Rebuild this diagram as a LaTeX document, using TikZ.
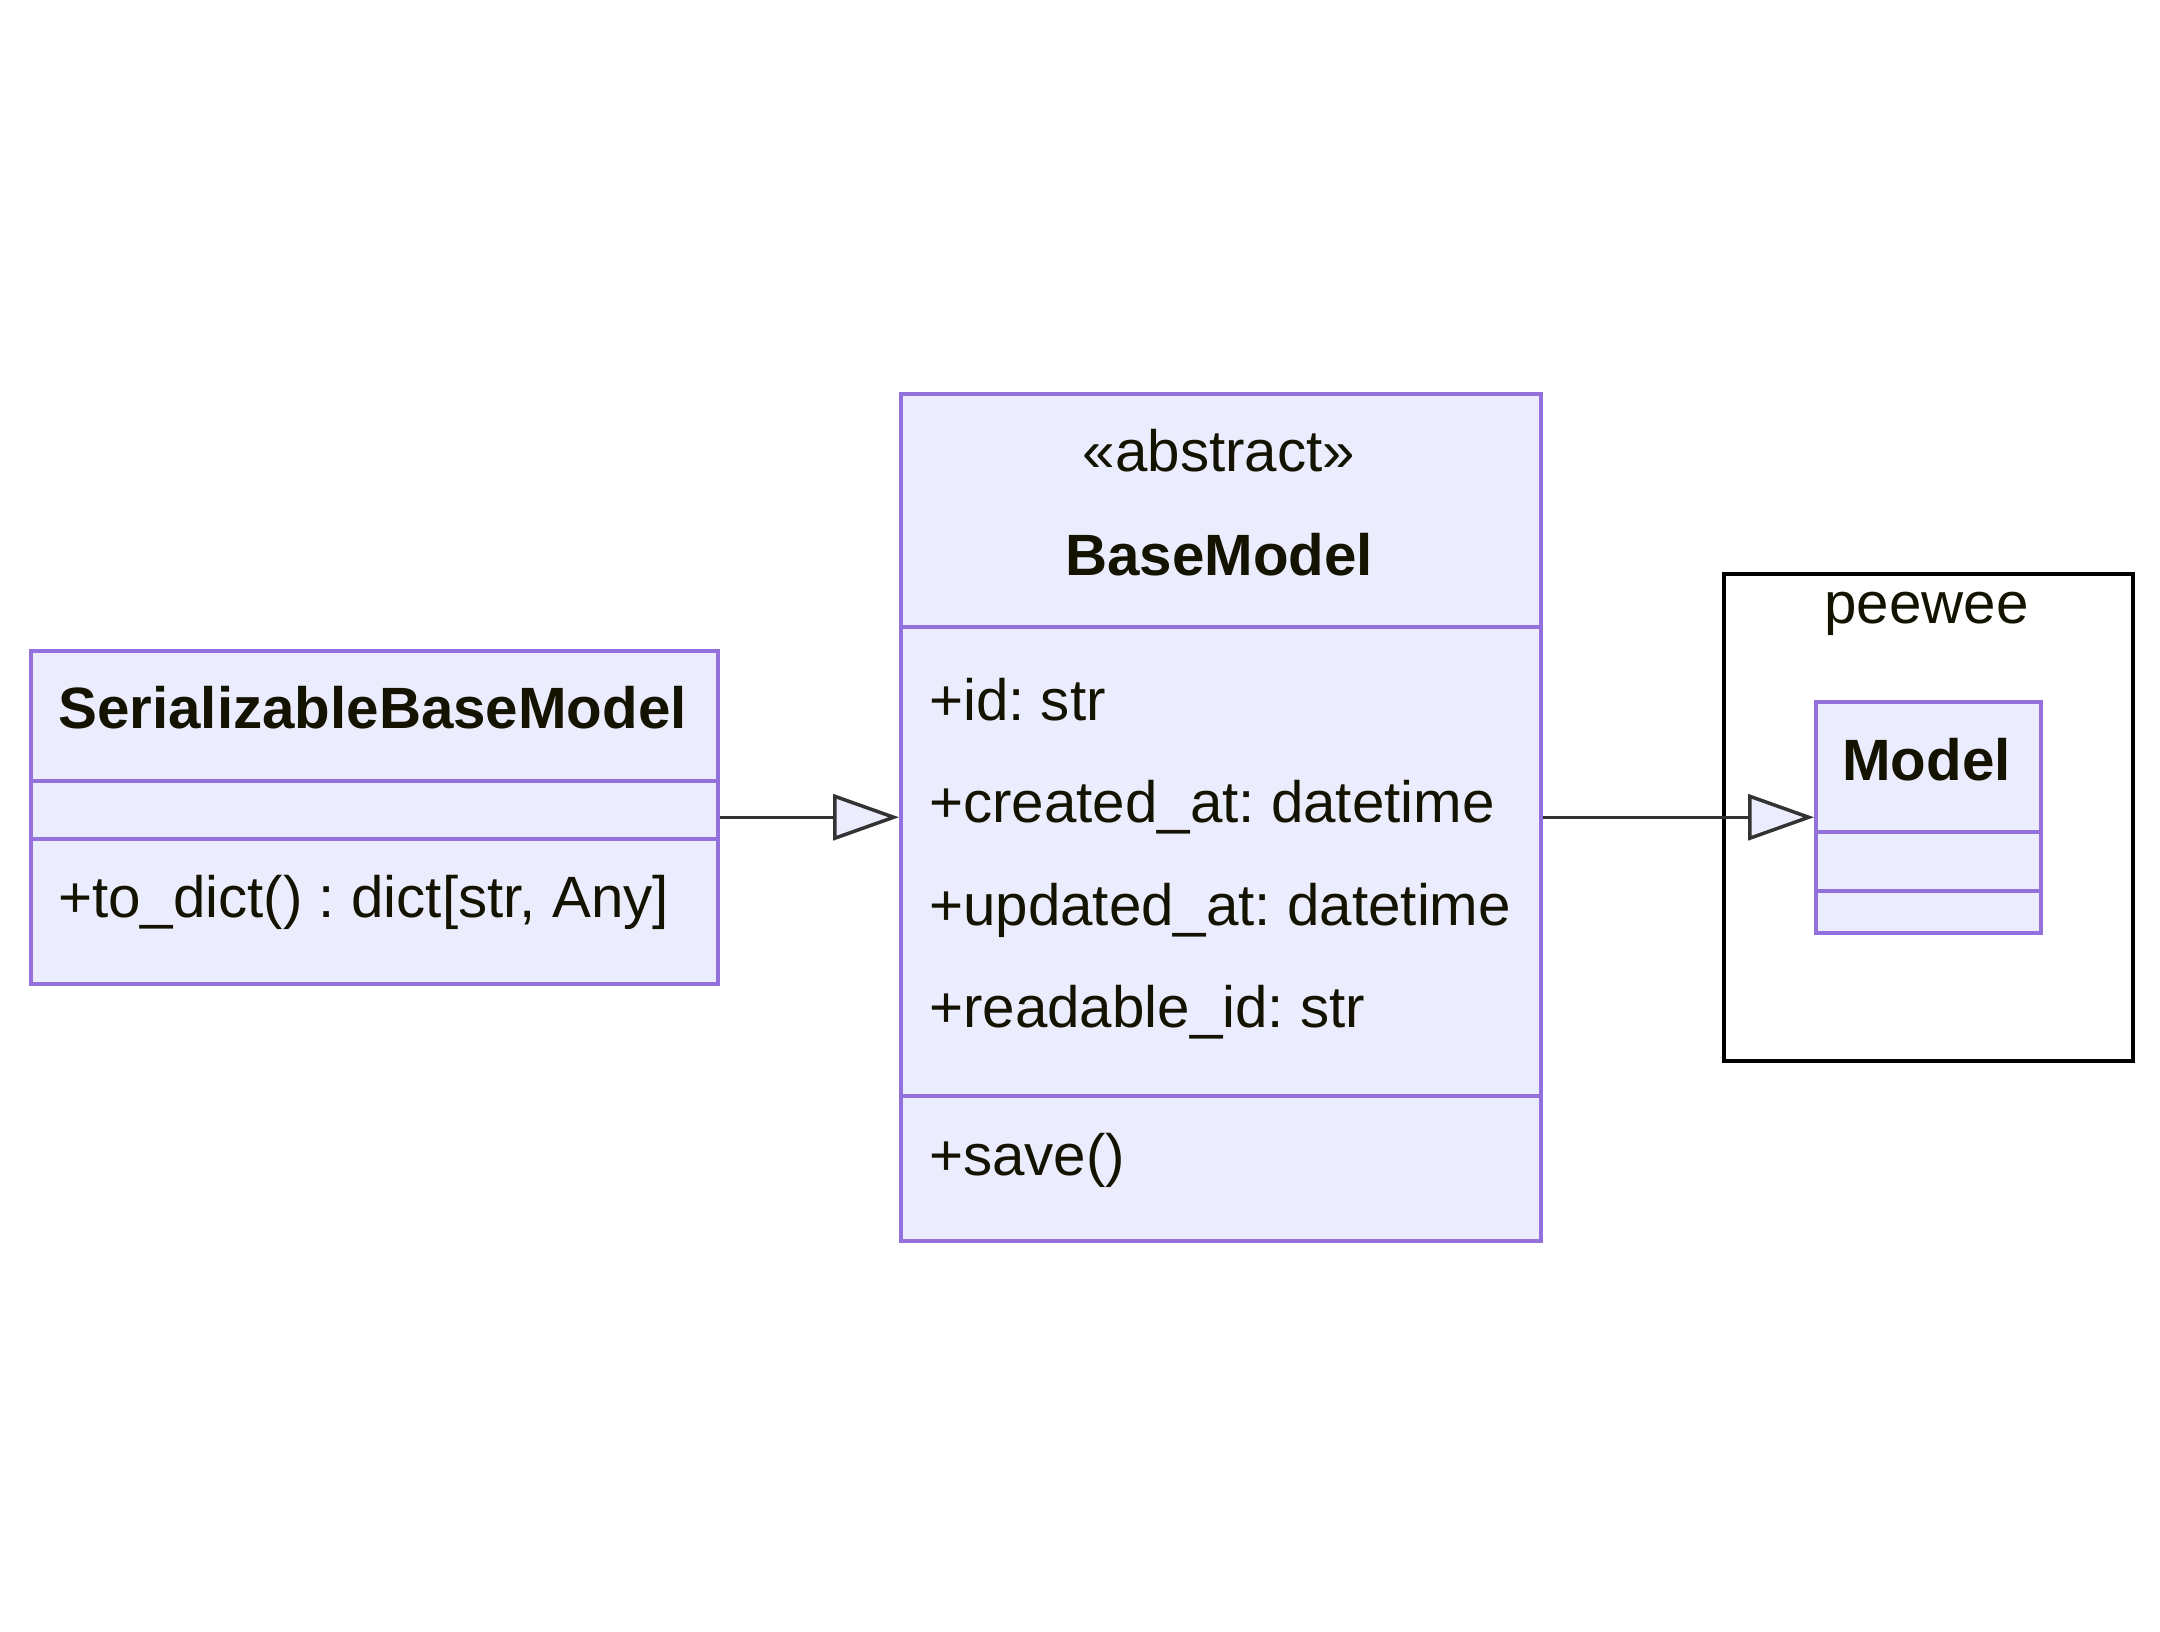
\documentclass[tikz,border=0pt]{standalone}
\usepackage{fontspec}
\setmainfont{Liberation Sans}
\usetikzlibrary{arrows.meta}
\definecolor{boxfill}{HTML}{ECECFF}
\definecolor{boxline}{HTML}{9370DB}
\definecolor{txt}{HTML}{131300}
\definecolor{edge}{HTML}{333333}
\frenchspacing
\begin{document}
\frenchspacing
\begin{tikzpicture}[x=1pt,y=-1pt,
  classbox/.style={draw=boxline, fill=boxfill, line width=3.5pt, rectangle, inner sep=0pt, anchor=north west},
  divider/.style={draw=boxline, line width=3.5pt},
  lbl/.style={inner sep=0pt, text=txt, font=\fontsize{58.3}{70}\selectfont},
  blbl/.style={inner sep=0pt, text=txt, font=\fontsize{58.3}{70}\selectfont\bfseries},
  inherit/.style={draw=edge, line width=3.5pt, -{Triangle[length=66pt,width=46pt,fill=boxfill]}},
]
\fill[white] (0,0) rectangle (2160,1631);
\useasboundingbox (0,0) rectangle (2160,1631);

% namespace cluster
\node[draw=black, fill=white, line width=4pt, rectangle, inner sep=0pt, anchor=north west,
      minimum width=409pt, minimum height=487pt] (peewee) at (1722,572) {};
\node[lbl, anchor=base] (peeweelbl) at (1926.5,623) {peewee};

% SerializableBaseModel
\node[classbox, minimum width=687pt, minimum height=333pt] (sbm) at (29,649) {};
\draw[divider] (29,781) -- (716,781);
\draw[divider] (29,839) -- (716,839);
\node[blbl, anchor=base] (sbmt) at (372.5,728) {SerializableBaseModel};
\node[lbl, anchor=base west] (sbmm) at (58,917) {+to\_dict() : dict[str, Any]};

% BaseModel
\node[classbox, minimum width=640pt, minimum height=847pt] (base) at (899,392) {};
\draw[divider] (899,627) -- (1539,627);
\draw[divider] (899,1096) -- (1539,1096);
\node[lbl, anchor=base] (baseste) at (1219,471) {«abstract»};
\node[blbl, anchor=base] (baset) at (1219,575) {BaseModel};
\node[lbl, anchor=base west] (a1) at (929,720) {+id: str};
\node[lbl, anchor=base west] (a2) at (929,822) {+created\_at: datetime};
\node[lbl, anchor=base west] (a3) at (929,925) {+updated\_at: datetime};
\node[lbl, anchor=base west] (a4) at (929,1027) {+readable\_id: str};
\node[lbl, anchor=base west] (m2) at (929,1175) {+save()};

% Model
\node[classbox, minimum width=225pt, minimum height=231pt] (model) at (1814,700) {};
\draw[divider] (1814,832) -- (2039,832);
\draw[divider] (1814,891) -- (2039,891);
\node[blbl, anchor=base] (modelt) at (1926.5,780) {Model};

% inheritance connectors
\draw[inherit] (sbm.east) -- (base.west);
\draw[inherit] (base.east) -- (model.west);
\end{tikzpicture}
\end{document}
